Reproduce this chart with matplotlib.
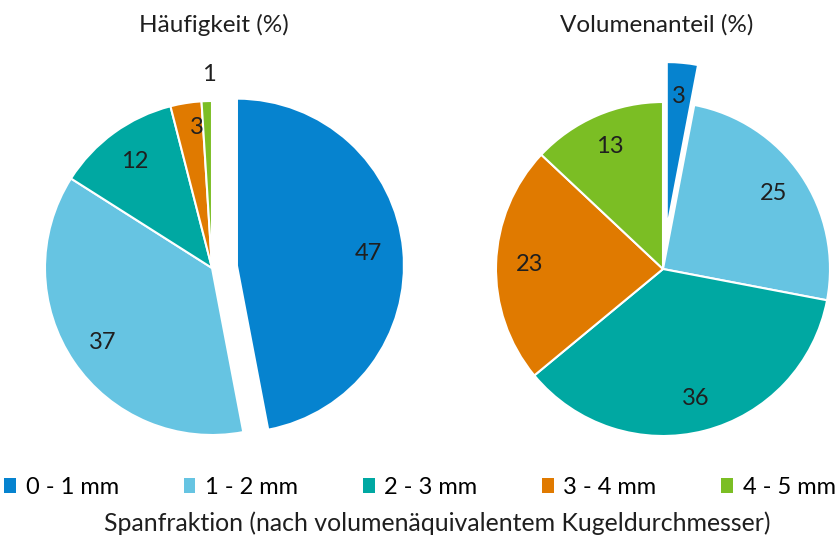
import matplotlib

matplotlib.use("Agg")

import matplotlib.pyplot as plt
from matplotlib.patches import Patch

plt.rcParams["font.family"] = ["Lato", "DejaVu Sans"]

categories = ["0 - 1 mm", "1 - 2 mm", "2 - 3 mm", "3 - 4 mm", "4 - 5 mm"]
colors = ["#0683CF", "#66C4E2", "#00A8A2", "#E07A00", "#7BBE24"]
haeufigkeit = [47, 37, 12, 3, 1]
volumenanteil = [3, 25, 36, 23, 13]

W, H = 840, 542
R_PX = 167
HALF = 200
FS = 17.5
TXT = "#1f1f1f"


def pie_axes(cx, cy):
    # cx, cy in pixels from top-left
    ax = fig.add_axes([(cx - HALF) / W, (H - cy - HALF) / H, 2 * HALF / W, 2 * HALF / H])
    return ax


def draw_pie(ax, values, explode_first, label_pos):
    explode = [explode_first] + [0] * (len(values) - 1)
    wedges, texts = ax.pie(
        values,
        colors=colors,
        explode=explode,
        startangle=90,
        counterclock=False,
        labels=[str(v) for v in values],
        labeldistance=label_pos,
        wedgeprops=dict(edgecolor="white", linewidth=1.5),
        textprops=dict(fontsize=17, color=TXT, ha="center", va="center"),
        frame=True,
    )
    ax.axis("off")
    lim = HALF / R_PX
    ax.set_xlim(-lim, lim)
    ax.set_ylim(-lim, lim)
    ax.set_aspect("equal")
    return wedges, texts


fig = plt.figure(figsize=(W / 100, H / 100), dpi=100)

ax1 = pie_axes(212, 268)
w1, t1 = draw_pie(ax1, haeufigkeit, 0.15, 0.79)
# the 1 % label sits outside the pie
t1[-1].set_position((-0.02, 1.16))
t1[-2].set_position((-0.09, 0.84))

ax2 = pie_axes(663, 269)
w2, t2 = draw_pie(ax2, volumenanteil, 0.24, 0.8)

fig.text(214 / W, 1 - 25 / H, "Häufigkeit (%)", ha="center", va="center", fontsize=FS, color=TXT)
fig.text(657 / W, 1 - 25 / H, "Volumenanteil (%)", ha="center", va="center", fontsize=FS, color=TXT)

handles = [Patch(facecolor=c, edgecolor="none", label=l) for c, l in zip(colors, categories)]
fig.legend(
    handles=handles,
    loc="center",
    bbox_to_anchor=(0.5, 1 - 487 / H),
    ncol=5,
    frameon=False,
    fontsize=17,
    handlelength=0.5,
    handleheight=0.6,
    handletextpad=0.4,
    columnspacing=2.75,
)
fig.text(437 / W, 1 - 523 / H, "Spanfraktion (nach volumenäquivalentem Kugeldurchmesser)",
         ha="center", va="center", fontsize=17.9, color=TXT)

fig.savefig("out.png", dpi=100)
